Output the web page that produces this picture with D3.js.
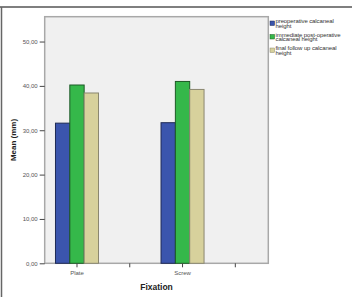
<!DOCTYPE html>
<html><head><meta charset="utf-8">
<script src="https://cdn.jsdelivr.net/npm/d3@7/dist/d3.min.js"></script>
<style>
html,body{margin:0;padding:0;background:#fff;}
svg{display:block;font-family:"Liberation Sans",Arial,sans-serif;}
</style></head>
<body><svg id="c" width="352" height="297"></svg>
<script>
const categories = ["Plate", "cat2", "Screw", "cat4"];
const categoryLabels = ["Plate", "", "Screw", ""];
const seriesNames = ["preoperative calcaneal height", "immediate post-operative calcaneal height", "final follow up calcaneal height"];
const legendLines = [["preoperative calcaneal", "height"], ["immediate post-operative", "calcaneal height"], ["final follow up calcaneal", "height"]];
const preoperative = [31.6, null, 31.7, null];
const immediatePost = [40.2, null, 41.0, null];
const finalFollowUp = [38.4, null, 39.2, null];
const yTicks = [0, 10, 20, 30, 40, 50];

const colors = ["#3b55ad", "#35b84a", "#d7d19c"];
const strokes = ["#1f2a55", "#1d5a26", "#8a8770"];
const series = [preoperative, immediatePost, finalFollowUp];

const svg = d3.select("#c");
const L = 44.7, R = 268.3, T = 16.7, B = 263.3;

// outer frame lines
svg.append("line").attr("x1", 0).attr("x2", 352).attr("y1", 7).attr("y2", 7).attr("stroke", "#555").attr("stroke-width", 1.5);
svg.append("line").attr("x1", 1.5).attr("x2", 1.5).attr("y1", 7).attr("y2", 297).attr("stroke", "#666").attr("stroke-width", 1.5);

// plot background
svg.append("rect").attr("x", L).attr("y", T).attr("width", R - L).attr("height", B - T)
  .attr("fill", "#f0f0f0").attr("stroke", "#a8a8a8").attr("stroke-width", 1.5);

const y = d3.scaleLinear().domain([0, 55.6]).range([B, T]);
const x = d3.scaleBand().domain(categories).range([50.6, 261.7]).padding(0);
const sub = d3.scaleBand().domain(d3.range(3)).range([0, x.bandwidth() * 0.815]).padding(0);
const off = (x.bandwidth() - x.bandwidth() * 0.815) / 2;

// bars
series.forEach((vals, si) => {
  svg.append("g").selectAll("rect").data(categories.map((c, i) => ({c, v: vals[i]})).filter(d => d.v != null))
    .join("rect")
    .attr("x", d => x(d.c) + off + sub(si))
    .attr("y", d => y(d.v))
    .attr("width", sub.bandwidth())
    .attr("height", d => B - y(d.v))
    .attr("fill", colors[si]).attr("stroke", strokes[si]).attr("stroke-width", 1);
});

// y axis
const yAxis = d3.axisLeft(y).tickValues(yTicks).tickSize(5).tickPadding(2)
  .tickFormat(d => d3.format(".2f")(d).replace(".", ","));
const gy = svg.append("g").attr("transform", `translate(${L},0)`).call(yAxis);
gy.select(".domain").remove();
gy.selectAll("line").attr("stroke", "#444");
gy.selectAll("text").attr("font-size", 6).attr("fill", "#555").attr("font-family", "Liberation Sans, Arial, sans-serif");

// x axis
const xAxis = d3.axisBottom(x).tickSize(4).tickPadding(3).tickFormat((d, i) => categoryLabels[i]);
const gx = svg.append("g").attr("transform", `translate(0,${B})`).call(xAxis);
gx.select(".domain").remove();
gx.selectAll("line").attr("stroke", "#444");
gx.selectAll("text").attr("font-size", 6).attr("fill", "#555").attr("font-family", "Liberation Sans, Arial, sans-serif");

// axis titles
svg.append("text").attr("x", (L + R) / 2).attr("y", 290).attr("text-anchor", "middle")
  .attr("font-size", 8.5).attr("font-weight", "bold").attr("fill", "#222").text("Fixation");
svg.append("text").attr("transform", `translate(16,${(T + B) / 2}) rotate(-90)`).attr("text-anchor", "middle")
  .attr("font-size", 8).attr("font-weight", "bold").attr("fill", "#222").text("Mean (mm)");

// legend
const lg = svg.append("g");
legendLines.forEach((lines, i) => {
  const top = 21 + i * 13.5;
  lg.append("rect").attr("x", 270).attr("y", top).attr("width", 4.5).attr("height", 4.5)
    .attr("fill", colors[i]).attr("stroke", strokes[i]).attr("stroke-width", 0.5);
  lines.forEach((t, j) => {
    lg.append("text").attr("x", 275.5).attr("y", 23 + i * 13.5 + j * 4.6)
      .attr("font-size", 6).attr("fill", "#333").attr("letter-spacing", -0.1).text(t);
  });
});
</script></body></html>
